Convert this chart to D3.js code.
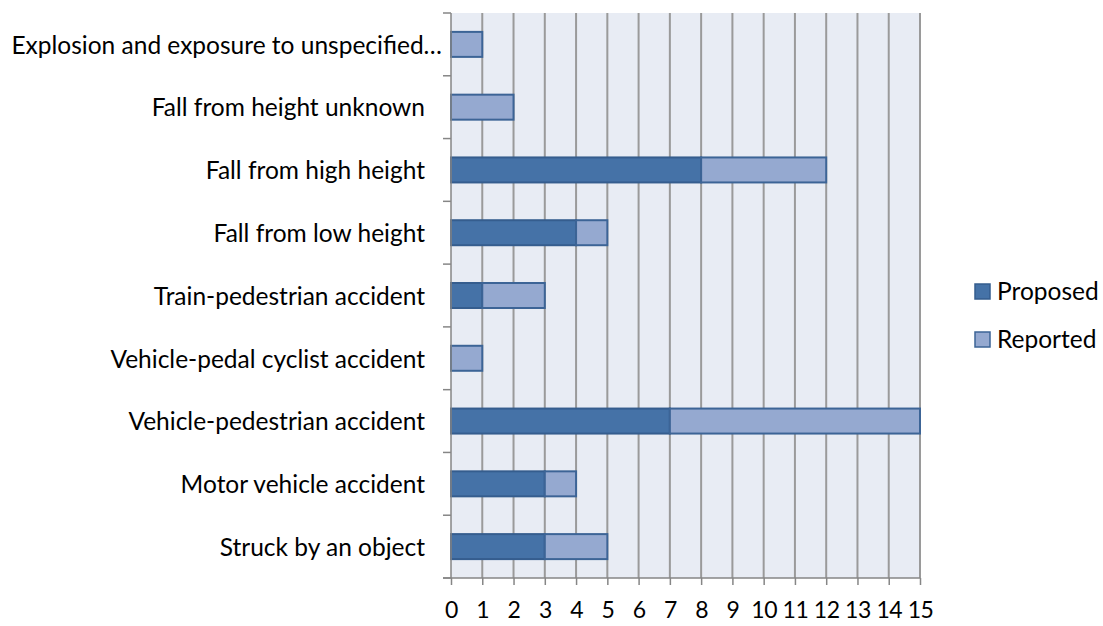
<!DOCTYPE html>
<html>
<head>
<meta charset="utf-8">
<script src="https://cdn.jsdelivr.net/npm/d3@7"></script>
<style>
  body { margin: 0; background: #fff; }
  svg text { font-family: Lato, "Open Sans", sans-serif; fill: #000; }
</style>
</head>
<body>
<svg id="chart" width="1103" height="626"></svg>
<script>
// chart data
const categories = [
    "Explosion and exposure to unspecified\u2026",
    "Fall from height unknown",
    "Fall from high height",
    "Fall from low height",
    "Train-pedestrian accident",
    "Vehicle-pedal cyclist accident",
    "Vehicle-pedestrian accident",
    "Motor vehicle accident",
    "Struck by an object"
];
const proposed = [0, 0, 8, 4, 1, 0, 7, 3, 3];
const reported = [1, 2, 4, 1, 2, 1, 8, 1, 2];
const seriesNames = ["Proposed", "Reported"];
const xTicks = d3.range(0, 16);

const fillColors = ["#4572a7", "#95a9d0"];
const strokeColors = ["#355d8e", "#3c6496"];

let svg = d3.select("#chart");
let plotLeft = 451, plotRight = 920, plotTop = 13, plotBottom = 578;
let fontSize = "24.5px";

let xScale = d3.scaleLinear().domain([0, 15]).range([plotLeft, plotRight]);
let yScale = d3.scaleBand().domain(categories).range([plotTop, plotBottom]);

// plot background
svg.append("rect")
    .attr("x", plotLeft).attr("y", plotTop)
    .attr("width", plotRight - plotLeft).attr("height", plotBottom - plotTop)
    .attr("fill", "#e8ecf4");

// vertical gridlines
svg.append("g")
    .selectAll("line")
    .data(xTicks.slice(1))
    .join("line")
    .attr("x1", d => xScale(d)).attr("x2", d => xScale(d))
    .attr("y1", plotTop).attr("y2", plotBottom)
    .attr("stroke", "#9a9a9a")
    .attr("stroke-width", 2);

// stacked bars
let rows = categories.map((c, i) => ({ cat: c, values: [proposed[i], reported[i]] }));
let barH = 25;
rows.forEach(function(r) {
    let x0 = 0;
    r.values.forEach(function(v, s) {
        if (v > 0) {
            svg.append("rect")
                .attr("x", xScale(x0))
                .attr("y", yScale(r.cat) + yScale.bandwidth() / 2 - barH / 2)
                .attr("width", xScale(x0 + v) - xScale(x0))
                .attr("height", barH)
                .attr("fill", fillColors[s])
                .attr("stroke", strokeColors[s])
                .attr("stroke-width", 2);
        }
        x0 += v;
    });
});

// y axis
let yAxis = svg.append("g")
    .attr("transform", "translate(" + plotLeft + ",0)")
    .call(d3.axisLeft(yScale).tickSize(0).tickPadding(26));
yAxis.select("path").remove();
yAxis.selectAll("text").style("font-size", fontSize).attr("dy", "0.38em");
// the truncated label runs past the others
yAxis.selectAll("text").filter((d, i) => i === 0).attr("dx", 17);
svg.append("line")
    .attr("x1", plotLeft).attr("x2", plotLeft).attr("y1", plotTop).attr("y2", plotBottom)
    .attr("stroke", "#868686").attr("stroke-width", 1.5);
svg.append("g")
    .selectAll("line")
    .data(d3.range(categories.length + 1))
    .join("line")
    .attr("x1", plotLeft - 8).attr("x2", plotLeft)
    .attr("y1", d => plotTop + d * yScale.step())
    .attr("y2", d => plotTop + d * yScale.step())
    .attr("stroke", "#868686").attr("stroke-width", 1.5);

// x axis
let xAxis = svg.append("g")
    .attr("transform", "translate(0," + plotBottom + ")")
    .call(d3.axisBottom(xScale).tickValues(xTicks).tickSize(7).tickPadding(17).tickSizeOuter(0));
xAxis.select("path").attr("stroke", "#868686").attr("stroke-width", 1.5)
    .attr("d", "M" + (plotLeft - 8) + ",0H" + plotRight);
xAxis.selectAll("line").attr("stroke", "#868686").attr("stroke-width", 1.5);
xAxis.selectAll("text").style("font-size", "23px").attr("letter-spacing", "-0.5px");

// legend
let legend = svg.append("g").attr("transform", "translate(975,280)");
seriesNames.forEach(function(name, i) {
    let g = legend.append("g").attr("transform", "translate(0," + (i * 48) + ")");
    g.append("rect")
        .attr("x", 0).attr("y", 4).attr("width", 15).attr("height", 15)
        .attr("fill", fillColors[i]).attr("stroke", strokeColors[i]).attr("stroke-width", 1.5);
    g.append("text")
        .attr("x", 22).attr("y", 20)
        .style("font-size", fontSize)
        .text(name);
});
</script>
</body>
</html>
